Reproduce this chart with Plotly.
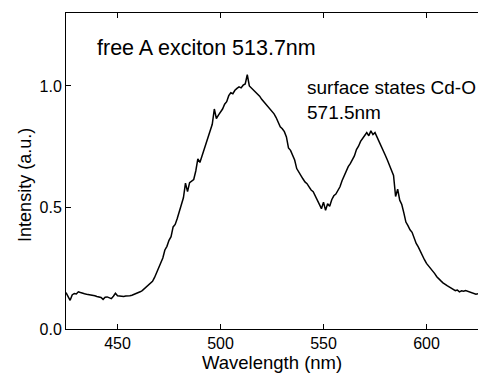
import plotly.graph_objects as go

wavelength = list(range(425, 626))
intensity = [
    0.150, 0.135, 0.118, 0.140, 0.146, 0.144, 0.153, 0.150, 0.146, 0.145,
    0.143, 0.142, 0.139, 0.138, 0.137, 0.134, 0.133, 0.130, 0.122, 0.131,
    0.132, 0.127, 0.125, 0.135, 0.147, 0.137, 0.135, 0.136, 0.134, 0.136,
    0.135, 0.137, 0.139, 0.142, 0.146, 0.150, 0.153, 0.158, 0.166, 0.172,
    0.180, 0.188, 0.196, 0.212, 0.232, 0.250, 0.268, 0.292, 0.325, 0.340,
    0.365, 0.380, 0.420, 0.430, 0.455, 0.482, 0.515, 0.540, 0.600, 0.565,
    0.602, 0.608, 0.615, 0.650, 0.700, 0.685, 0.710, 0.738, 0.760, 0.790,
    0.818, 0.842, 0.905, 0.866, 0.880, 0.892, 0.905, 0.925, 0.935, 0.960,
    0.972, 0.968, 0.982, 0.990, 0.996, 0.992, 1.003, 1.008, 1.046, 1.000,
    0.992, 0.982, 0.975, 0.966, 0.958, 0.945, 0.935, 0.925, 0.915, 0.904,
    0.895, 0.885, 0.870, 0.848, 0.832, 0.824, 0.812, 0.790, 0.745, 0.735,
    0.712, 0.695, 0.660, 0.645, 0.628, 0.618, 0.605, 0.598, 0.585, 0.572,
    0.565, 0.548, 0.532, 0.515, 0.495, 0.522, 0.488, 0.515, 0.505, 0.532,
    0.548, 0.555, 0.570, 0.585, 0.610, 0.632, 0.648, 0.668, 0.680, 0.695,
    0.712, 0.738, 0.752, 0.772, 0.786, 0.796, 0.808, 0.795, 0.815, 0.800,
    0.808, 0.790, 0.775, 0.755, 0.738, 0.715, 0.695, 0.672, 0.655, 0.632,
    0.545, 0.575, 0.530, 0.512, 0.478, 0.440, 0.425, 0.408, 0.398, 0.375,
    0.352, 0.338, 0.318, 0.300, 0.285, 0.270, 0.260, 0.248, 0.236, 0.228,
    0.215, 0.205, 0.198, 0.190, 0.182, 0.178, 0.173, 0.168, 0.162, 0.158,
    0.160, 0.153, 0.157, 0.155, 0.158, 0.155, 0.152, 0.150, 0.147, 0.143,
    0.145,
]

x_ticks = [450, 500, 550, 600]
y_ticks = [0.0, 0.5, 1.0]
y_tick_labels = ["0.0", "0.5", "1.0"]

label_a = "free A exciton 513.7nm"
label_b1 = "surface states Cd-O"
label_b2 = "571.5nm"
x_title = "Wavelength (nm)"
y_title = "Intensity (a.u.)"

FONT = "Liberation Sans, Arial, Helvetica, sans-serif"

fig = go.Figure()
fig.add_trace(go.Scatter(
    x=wavelength, y=intensity, mode="lines",
    line=dict(color="black", width=1.5), showlegend=False,
))

fig.add_annotation(x=439.2, y=1.158, text=label_a, showarrow=False,
                   xanchor="left", yanchor="middle", font=dict(size=21.5, color="black"))
fig.add_annotation(x=541.0, y=0.992, text=label_b1, showarrow=False,
                   xanchor="left", yanchor="middle", font=dict(size=19, color="black"))
fig.add_annotation(x=541.0, y=0.889, text=label_b2, showarrow=False,
                   xanchor="left", yanchor="middle", font=dict(size=19, color="black"))
# axis titles placed as in the reference
fig.add_annotation(xref="paper", yref="paper", x=0, y=0.456, xshift=-41,
                   text=y_title, textangle=-90, showarrow=False,
                   xanchor="center", yanchor="middle", font=dict(size=18, color="black"))
fig.add_annotation(xref="paper", yref="paper", x=0.5, y=0, yshift=-33,
                   text=x_title, showarrow=False,
                   xanchor="center", yanchor="middle", font=dict(size=18.5, color="black"))

fig.update_layout(
    width=478, height=373,
    margin=dict(l=66, r=0, t=13, b=44, autoexpand=False),
    paper_bgcolor="white", plot_bgcolor="white",
    font=dict(family=FONT, color="black", size=16),
    xaxis=dict(
        range=[425, 625], tickvals=x_ticks, ticks="inside", ticklen=5,
        tickcolor="black", showline=True, linecolor="black", linewidth=1,
        mirror="ticks", showgrid=False, zeroline=False,
        tickfont=dict(size=16), automargin=False, ticklabelstandoff=0,
    ),
    yaxis=dict(
        range=[0, 1.3], tickvals=y_ticks, ticktext=y_tick_labels,
        ticks="inside", ticklen=5, tickcolor="black", showline=True,
        linecolor="black", linewidth=1, showgrid=False, zeroline=False,
        tickfont=dict(size=16), automargin=False,
    ),
)

fig.write_html("out.html", config={"displayModeBar": False},
               post_script="document.body.style.margin='0';")
